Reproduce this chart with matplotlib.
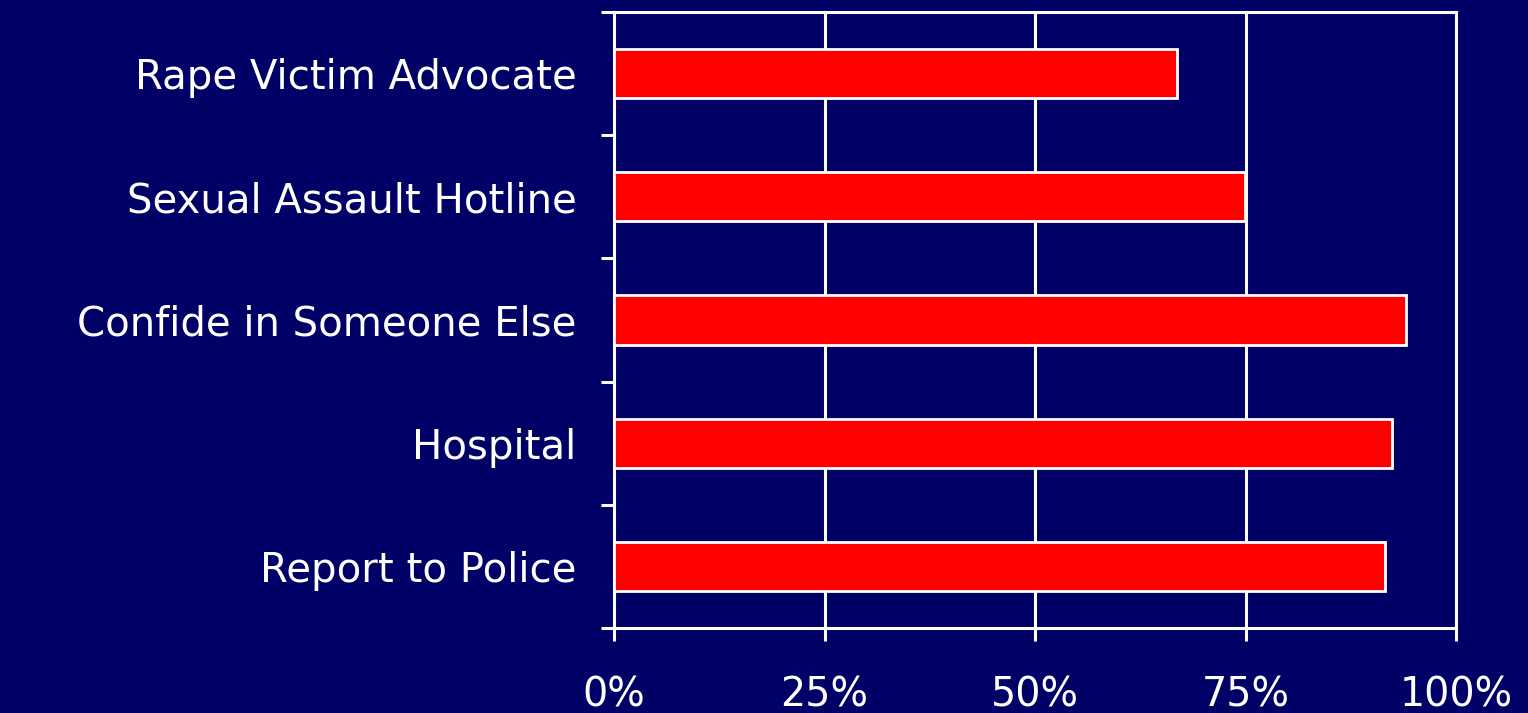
import matplotlib
matplotlib.use("Agg")
import matplotlib.pyplot as plt
import numpy as np

categories = ["Rape Victim Advocate", "Sexual Assault Hotline", "Confide in Someone Else",
              "Hospital", "Report to Police"]
values = [66.9, 74.9, 94.1, 92.4, 91.6]
xticks = [0, 25, 50, 75, 100]
xticklabels = ["0%", "25%", "50%", "75%", "100%"]

bg = "#000066"
fig = plt.figure(figsize=(15.28, 7.13), dpi=100, facecolor=bg)
ax = fig.add_axes([614/1528, 1-628/713, (1456-614)/1528, (628-12)/713])
ax.set_facecolor(bg)

y = np.arange(len(categories))
ax.barh(y, values, height=0.4, color="#ff0000", edgecolor="white", linewidth=2, zorder=3)

ax.set_xlim(0, 100)
ax.set_ylim(len(categories) - 0.5, -0.5)
ax.set_xticks(xticks)
ax.set_xticklabels(xticklabels)
ax.set_yticks(y)
ax.set_yticklabels(categories)
ax.set_yticks(np.arange(-0.5, len(categories), 1), minor=True)

ax.xaxis.grid(True, color="white", linewidth=2.2, zorder=1)
ax.set_axisbelow(True)
for s in ax.spines.values():
    s.set_color("white")
    s.set_linewidth(2.2)

ax.tick_params(axis="y", which="major", length=0, pad=27, labelsize=29, labelcolor="white")
ax.tick_params(axis="y", which="minor", length=9.5, width=2.2, color="white", direction="out")
ax.tick_params(axis="x", which="major", length=9, width=2.2, color="white", pad=25,
               labelsize=28.5, labelcolor="white")

fig.savefig("out.png", dpi=100, facecolor=bg)
